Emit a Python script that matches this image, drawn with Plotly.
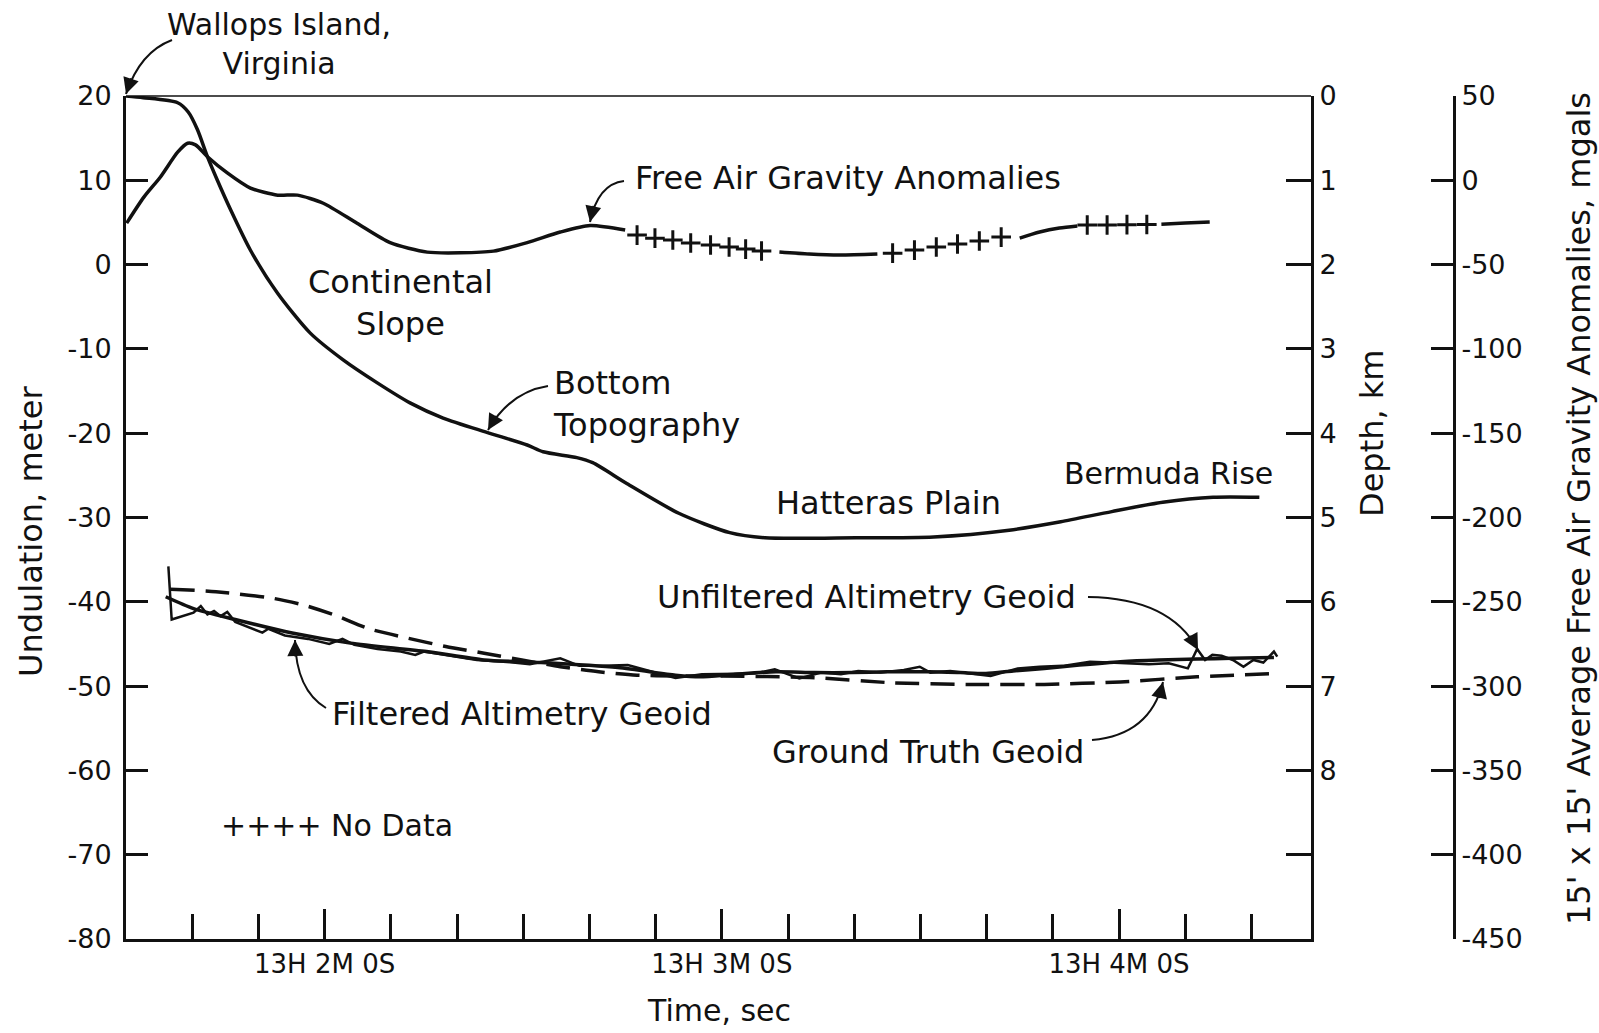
import plotly.graph_objects as go

# ---------------- data (time in seconds after 13H 0M 0S) ----------------
# Bottom topography, depth in km (middle axis)
topo_t = [90, 92.6, 97.8, 99.4, 100.8, 102.3, 103.8, 105.8, 108.8, 112.9, 117.8, 122.8, 127.9,
          132.9, 137.9, 144.5, 150.6, 153.0, 158.1, 160.5, 165.7, 173.5, 181.2, 186.5, 200.3,
          212.0, 223.4, 231.2, 238.9, 246.6, 254.2, 261.2]
topo_depth_km = [0, 0.02, 0.08, 0.19, 0.40, 0.72, 1.0, 1.35, 1.83, 2.34, 2.81, 3.13, 3.40,
                 3.64, 3.82, 3.99, 4.14, 4.22, 4.29, 4.35, 4.60, 4.95, 5.18, 5.24, 5.24,
                 5.23, 5.15, 5.05, 4.93, 4.82, 4.76, 4.76]

# Free air gravity anomalies, mgals (right axis); None = gap (no data)
fa_t = [90.1, 92.7, 95.2, 97.8, 99.3, 100.5, 102.3, 105.3, 108.8, 112.9, 115.9, 119.8, 124.9,
        129.9, 135.5, 140.5, 145.5, 150.6, 155.6, 160.1, 165.4, None,
        188.7, 193.2, 197.8, 203.5, None,
        225.0, 228.0, 231.0, 233.7, None,
        246.4, 250.0, 253.7]
fa_mgal = [-25.4, -10, 2, 16.7, 22, 21, 14, 4.4, -4.6, -8.8, -8.8, -13.6, -25.5,
           -37, -42.6, -43, -42, -37, -30.7, -26.8, -29.5, None,
           -42.5, -43.7, -44.3, -43.7, None,
           -34.3, -30.7, -28.3, -27.1, None,
           -26.0, -25.4, -24.8]

# "No data" markers (+) along the gravity profile
nodata_t = [167.2, 169.9, 172.6, 175.3, 178.3, 181.1, 183.6, 186.0,
            205.8, 209.1, 212.4, 215.6, 218.9, 222.2,
            235.2, 238.2, 241.2, 244.2]
nodata_mgal = [-32.5, -34.3, -35.4, -37.2, -38.4, -39.6, -40.8, -41.9,
               -43.2, -41.4, -39.6, -37.8, -36.0, -33.7,
               -26.5, -26.5, -26.3, -26.2]

# Ground truth geoid, undulation in m (left axis)
gt_t = [96.7, 103.6, 112.3, 116.9, 121.6, 126.7, 132.5, 138.3, 144.1, 149.8, 155.6, 161.4,
        167.2, 173.0, 179.4, 194.0, 205.6, 217.1, 228.7, 240.2, 251.8, 264.0]
gt_u = [-38.5, -38.8, -39.6, -40.4, -41.6, -43.2, -44.3, -45.3, -46.1, -46.9, -47.7, -48.3,
        -48.7, -48.8, -48.8, -49.0, -49.6, -49.8, -49.8, -49.5, -48.9, -48.5]

# Filtered altimetry geoid
filt_t = [96.0, 100.2, 106.5, 115.1, 123.9, 135.4, 144.1, 152.7, 164.3, 173.0, 176.7, 182.0,
          188.2, 194.0, 199.7, 205.0, 211.3, 216.0, 219.9, 224.0, 228.7, 234.0, 240.2, 246.0,
          251.8, 257.0, 263.4]
filt_u = [-39.4, -40.8, -42.1, -43.7, -44.9, -45.9, -46.9, -47.2, -47.8, -48.7, -48.9, -48.6,
          -48.3, -48.4, -48.4, -48.3, -48.3, -48.4, -48.5, -48.2, -47.9, -47.5, -47.1, -46.9,
          -46.8, -46.7, -46.6]

# Unfiltered altimetry geoid
unf_t = [96.4, 96.9, 100.2, 101.3, 102.3, 103.3, 104.3, 105.3, 106.5, 108.5, 110.6, 111.5,
         114.0, 117.5, 120.7, 122.7, 124.5, 128.0, 131.5, 133.7, 135.0, 139.0, 143.0, 147.0,
         151.0, 155.6, 158.5, 162.0, 165.8, 169.5, 173.0, 177.0, 181.5, 185.0, 188.0, 191.7,
         195.0, 198.0, 200.6, 204.0, 207.5, 209.9, 211.5, 214.5, 217.5, 220.6, 224.7, 228.0,
         231.5, 235.6, 238.5, 241.5, 244.5, 247.5, 250.4, 251.8, 253.0, 254.1, 255.5, 257.2,
         258.8, 260.3, 261.8, 263.4, 263.9]
unf_u = [-35.8, -42.1, -41.3, -40.5, -41.5, -41.1, -41.7, -41.2, -42.4, -43.0, -43.65, -43.2,
         -44.0, -44.4, -45.0, -44.4, -45.1, -45.6, -45.9, -46.3, -45.9, -46.4, -46.9, -47.1,
         -47.4, -46.7, -47.6, -47.6, -47.5, -48.3, -49.05, -48.6, -48.5, -48.5, -48.0, -49.1,
         -48.4, -48.6, -48.2, -48.4, -48.1, -47.7, -48.4, -48.2, -48.5, -48.8, -47.9, -47.7,
         -47.6, -47.1, -47.2, -47.3, -47.4, -47.3, -47.9, -45.6, -46.9, -46.3, -46.4, -46.9,
         -47.7, -46.9, -47.2, -45.9, -46.5]

# Axis ticks
x_tickvals = [120, 180, 240]
x_ticktext = ["13H 2M 0S", "13H 3M 0S", "13H 4M 0S"]
u_tickvals = [20, 10, 0, -10, -20, -30, -40, -50, -60, -70, -80]
u_ticktext = ["20", "10", "0", "-10", "-20", "-30", "-40", "-50", "-60", "-70", "-80"]
depth_tickvals = [0, 1, 2, 3, 4, 5, 6, 7, 8, 9]
depth_ticktext = ["0", "1", "2", "3", "4", "5", "6", "7", "8", ""]
mgal_tickvals = [50, 0, -50, -100, -150, -200, -250, -300, -350, -400, -450]
mgal_ticktext = ["50", "0", "-50", "-100", "-150", "-200", "-250", "-300", "-350", "-400", "-450"]

# ---------------- layout geometry ----------------
W, H = 1599, 1033
L, R, T, B = 126, 145, 96, 94
PW, PH = W - L - R, H - T - B
X_DOM_END = (1311 - L) / PW
FONT = "DejaVu Sans"
BLACK = "#111111"


def px(x):
    return (x - L) / PW


def py(y):
    return (H - B - y) / PH


fig = go.Figure()
fig.add_trace(go.Scatter(x=topo_t, y=topo_depth_km, yaxis="y2", mode="lines",
                         line=dict(color=BLACK, width=3.5, shape="spline", smoothing=0.7),
                         name="Bottom Topography"))
fig.add_trace(go.Scatter(x=fa_t, y=fa_mgal, yaxis="y3", mode="lines", connectgaps=False,
                         line=dict(color=BLACK, width=3.5, shape="spline", smoothing=0.7),
                         name="Free Air Gravity Anomalies"))
fig.add_trace(go.Scatter(x=nodata_t, y=nodata_mgal, yaxis="y3", mode="markers",
                         marker=dict(symbol="cross-thin", size=14, color=BLACK,
                                     line=dict(color=BLACK, width=3)),
                         name="No Data"))
fig.add_trace(go.Scatter(x=gt_t, y=gt_u, mode="lines",
                         line=dict(color=BLACK, width=3.5, dash="24px,11px", shape="spline", smoothing=0.7),
                         name="Ground Truth Geoid"))
fig.add_trace(go.Scatter(x=filt_t, y=filt_u, mode="lines",
                         line=dict(color=BLACK, width=3.5, shape="spline", smoothing=0.7),
                         name="Filtered Altimetry Geoid"))
fig.add_trace(go.Scatter(x=unf_t, y=unf_u, mode="lines",
                         line=dict(color=BLACK, width=2.5),
                         name="Unfiltered Altimetry Geoid"))

axis_common = dict(showgrid=False, zeroline=False, showline=True, linecolor=BLACK,
                   linewidth=3, ticks="inside", tickcolor=BLACK, tickwidth=2.5,
                   tickfont=dict(family=FONT, size=27, color=BLACK))

fig.update_layout(
    width=W, height=H,
    margin=dict(l=L, r=R, t=T, b=B, pad=0),
    paper_bgcolor="white", plot_bgcolor="white",
    showlegend=False,
    font=dict(family=FONT, size=32, color=BLACK),
    xaxis=dict(domain=[0, X_DOM_END], range=[90, 269], tickmode="array",
               tickvals=x_tickvals, ticktext=x_ticktext, ticklen=30,
               minor=dict(ticks="inside", ticklen=25, tickwidth=2.5, tickcolor=BLACK,
                          tick0=0, dtick=10),
               **{**axis_common, "tickfont": dict(family=FONT, size=26, color=BLACK)}),
    yaxis=dict(range=[-80, 20], tickmode="array", tickvals=u_tickvals,
               ticktext=u_ticktext, ticklen=22, anchor="x", ticklabelstandoff=6,
               **axis_common),
    yaxis2=dict(range=[10, 0], overlaying="y", side="right", anchor="x", tickmode="array",
                tickvals=depth_tickvals, ticktext=depth_ticktext, ticklen=25, **axis_common),
    yaxis3=dict(range=[-450, 50], overlaying="y", side="right", anchor="free", position=1.0,
                tickmode="array", tickvals=mgal_tickvals, ticktext=mgal_ticktext,
                ticklen=22, **axis_common),
)

# thin top border of the plot frame
fig.add_shape(type="line", xref="paper", yref="paper", x0=px(126), x1=px(1311),
              y0=py(96), y1=py(96), line=dict(color=BLACK, width=1.5))

# ---------------- text labels ----------------
def label(text, x, y, size=32, align="center", xanchor="center", angle=0):
    fig.add_annotation(text=text, x=px(x), y=py(y), xref="paper", yref="paper",
                       showarrow=False, align=align, xanchor=xanchor, yanchor="middle",
                       textangle=angle, font=dict(family=FONT, size=size, color=BLACK))


label("Wallops Island,<br>Virginia", 279, 44, size=30)
label("Free Air Gravity Anomalies", 848, 178)
label("Continental<br>Slope", 400, 303)
label("Bottom<br>Topography", 551, 404, align="left", xanchor="left")
label("Hatteras Plain", 888, 503)
label("Bermuda Rise", 1168, 473, size=30)
label("Unfiltered Altimetry Geoid", 866, 597)
label("Filtered Altimetry Geoid", 522, 714)
label("Ground Truth Geoid", 928, 752)
label("++++ No Data", 337, 825, size=30)
label("Time, sec", 719, 1010, size=30)
label("Undulation, meter", 31, 531, angle=-90)
label("Depth, km", 1372, 433, angle=-90)
label("15' x 15' Average Free Air Gravity Anomalies, mgals", 1579, 509, size=32, angle=-90)


# ---------------- curved arrows ----------------
def curved_arrow(x0, y0, cx, cy, x1, y1):
    path = "M {:.5f},{:.5f} Q {:.5f},{:.5f} {:.5f},{:.5f}".format(
        px(x0), py(y0), px(cx), py(cy), px(x1), py(y1))
    fig.add_shape(type="path", path=path, xref="paper", yref="paper",
                  line=dict(color=BLACK, width=2))
    dx, dy = cx - x1, cy - y1
    n = (dx * dx + dy * dy) ** 0.5
    fig.add_annotation(x=px(x1), y=py(y1), xref="paper", yref="paper", text="",
                       showarrow=True, arrowhead=2, arrowsize=1.6, arrowwidth=2,
                       arrowcolor=BLACK, ax=dx / n * 18, ay=dy / n * 18)


curved_arrow(172, 40, 140, 52, 126, 94)
curved_arrow(624, 181, 598, 184, 590, 222)
curved_arrow(548, 386, 510, 392, 488, 430)
curved_arrow(1088, 597, 1170, 598, 1198, 650)
curved_arrow(326, 708, 296, 690, 295, 640)
curved_arrow(1092, 740, 1150, 735, 1163, 682)

fig.write_html("out.html", config={"displayModeBar": False},
               post_script="document.body.style.margin='0px';document.body.style.overflow='hidden';")
